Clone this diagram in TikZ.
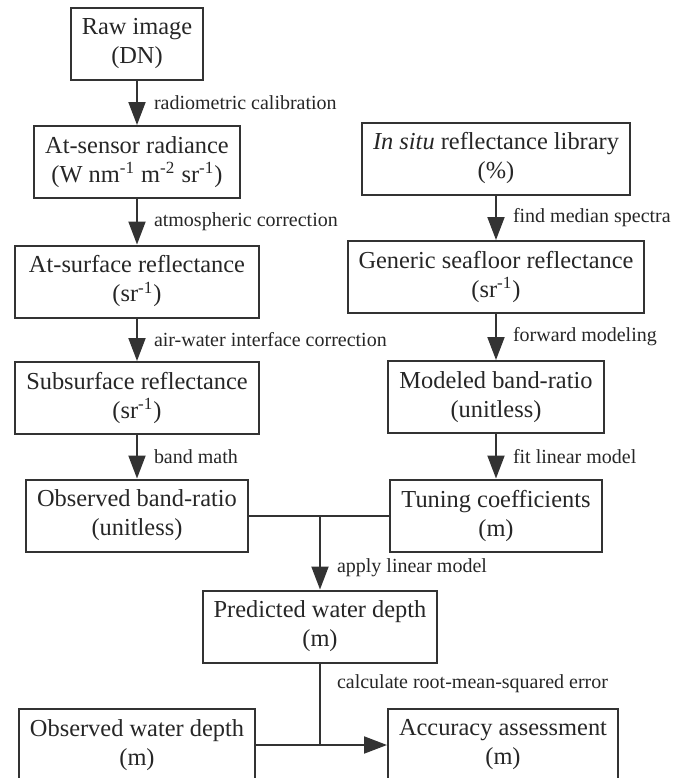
\documentclass[tikz,border=0pt]{standalone}
\usepackage{fontspec}
\setmainfont{Liberation Serif}
\usetikzlibrary{arrows.meta,positioning,calc}
\definecolor{inkgray}{HTML}{333333}
\definecolor{textgray}{HTML}{262626}
\tikzset{
  procbox/.style={draw=inkgray, line width=1pt, align=center, inner xsep=5.5pt,
    minimum height=36pt, text=textgray, font=\fontsize{12.2}{14.5}\selectfont},
  flowarrow/.style={draw=inkgray, line width=1pt, -{Triangle[length=11.5pt,width=8.5pt]}},
  flowline/.style={draw=inkgray, line width=1pt},
  steplabel/.style={right, inner sep=0pt, xshift=8pt, text=textgray,
    font=\fontsize{10}{12}\selectfont}
}

\begin{document}
\begin{tikzpicture}[x=0.5pt, y=-0.5pt]
  \useasboundingbox (0,0) rectangle (688,778);

  % Left column - image processing chain
  \node[procbox] (raw) at (137,43.5) {Raw image\\(DN)};
  \node[procbox] (sensor) at (137,162) {At-sensor radiance\\(W nm\textsuperscript{-1} m\textsuperscript{-2} sr\textsuperscript{-1})};
  \node[procbox, minimum width=122pt] (surface) at (137,281.5) {At-surface reflectance\\(sr\textsuperscript{-1})};
  \node[procbox, minimum width=122pt] (subsurf) at (137,398) {Subsurface reflectance\\(sr\textsuperscript{-1})};
  \node[procbox] (obsratio) at (137,515.5) {Observed band-ratio\\(unitless)};

  % Right column - spectral library chain
  \node[procbox] (library) at (496,158.5) {\textit{In situ} reflectance library\\(\%)};
  \node[procbox] (seafloor) at (496,277) {Generic seafloor reflectance\\(sr\textsuperscript{-1})};
  \node[procbox] (modratio) at (496,397) {Modeled band-ratio\\(unitless)};
  \node[procbox] (tuning) at (496,515.5) {Tuning coefficients\\(m)};

  % Middle and bottom
  \node[procbox] (predicted) at (320,626.5) {Predicted water depth\\(m)};
  \node[procbox] (obsdepth) at (137,745) {Observed water depth\\(m)};
  \node[procbox] (accuracy) at (503,745) {Accuracy assessment\\(m)};

  % Processing steps
  \draw[flowarrow] (raw) -- (sensor) node[midway, steplabel] {radiometric calibration};
  \draw[flowarrow] (sensor) -- (surface) node[midway, steplabel] {atmospheric correction};
  \draw[flowarrow] (surface) -- (subsurf) node[midway, steplabel] {air-water interface correction};
  \draw[flowarrow] (subsurf) -- (obsratio) node[midway, steplabel] {band math};
  \draw[flowarrow] (library) -- (seafloor) node[midway, steplabel] {find median spectra};
  \draw[flowarrow] (seafloor) -- (modratio) node[midway, steplabel] {forward modeling};
  \draw[flowarrow] (modratio) -- (tuning) node[midway, steplabel] {fit linear model};

  % Junction of both ratios into the depth model
  \coordinate (join) at (predicted.north |- obsratio.east);
  \draw[flowline] (obsratio.east) -- (tuning.west);
  \draw[flowarrow] (join) -- (predicted.north) node[pos=0.7, steplabel] {apply linear model};

  % Comparison with observed depth
  \coordinate (meet) at (predicted.south |- obsdepth.east);
  \draw[flowline] (predicted.south) -- (meet) node[pos=0.25, steplabel] {calculate root-mean-squared error};
  \draw[flowarrow] (obsdepth.east) -- (accuracy.west);
\end{tikzpicture}
\end{document}
